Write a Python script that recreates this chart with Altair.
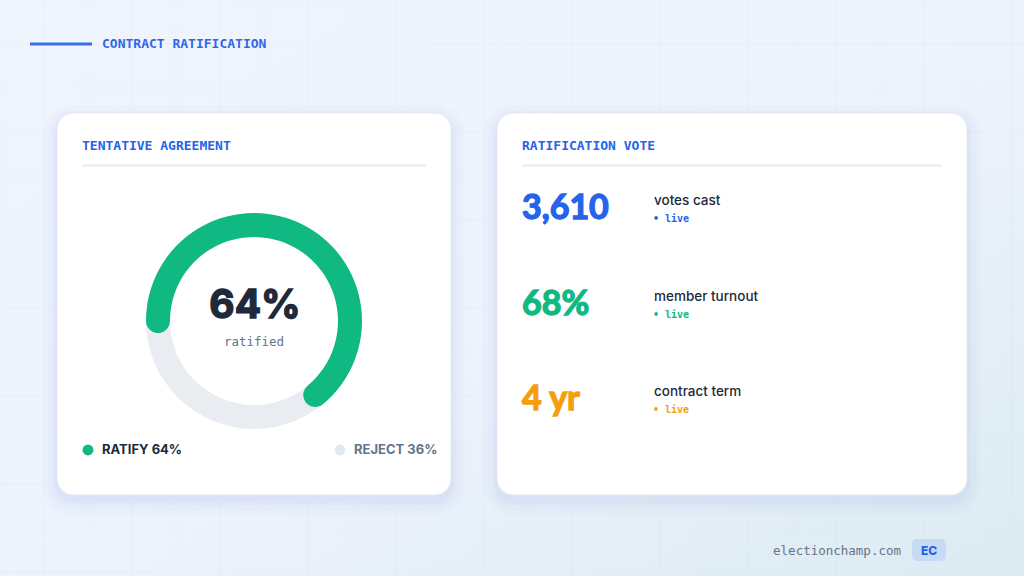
import math
import altair as alt
import pandas as pd

# ---------------- data ----------------
vote_labels = ["RATIFY", "REJECT"]
vote_shares = [64, 36]
center_caption = "ratified"

stat_values = ["3,610", "68%", "4 yr"]
stat_labels = ["votes cast", "member turnout", "contract term"]
stat_status = ["live", "live", "live"]

page_title = "CONTRACT RATIFICATION"
left_title = "TENTATIVE AGREEMENT"
right_title = "RATIFICATION VOTE"
footer_site = "electionchamp.com"
footer_badge = "EC"

# ---------------- style ----------------
BLUE = "#2563eb"
GREEN = "#10b981"
AMBER = "#f59e0b"
DARK = "#1e293b"
SLATE = "#64748b"
TRACK = "#e9edf2"
REJECT_DOT = "#e2e8f0"
DIVIDER = "#e6ebf2"
MONO = "DejaVu Sans Mono"
SANS = "Inter"

stat_colors = [BLUE, GREEN, AMBER]
vote_dot_colors = [GREEN, REJECT_DOT]
vote_ink_colors = [DARK, SLATE]

pie = pd.DataFrame({"label": vote_labels, "value": vote_shares,
                    "dot": vote_dot_colors, "ink": vote_ink_colors})
stats = pd.DataFrame({"idx": [0, 1, 2], "value": stat_values, "label": stat_labels,
                      "status": stat_status, "color": stat_colors})
one = pd.DataFrame({"k": [0]})

W, H = 1024, 576


def rect(x, x2, y, y2, **kw):
    return alt.Chart(one).mark_rect(**kw).encode(
        x=alt.value(x), x2=alt.value(x2), y=alt.value(y), y2=alt.value(y2))


def hrule(x, x2, y, **kw):
    return alt.Chart(one).mark_rule(**kw).encode(
        x=alt.value(x), x2=alt.value(x2), y=alt.value(y))


def text(s, x, y, **kw):
    return alt.Chart(one).mark_text(text=s, **kw).encode(x=alt.value(x), y=alt.value(y))


layers = []

# background gradient
layers.append(rect(0, W, 0, H, fill=alt.LinearGradient(
    gradient="linear", x1=0, y1=0, x2=1, y2=1,
    stops=[alt.GradientStop(color="#f0f4fd", offset=0),
           alt.GradientStop(color="#edf2fc", offset=0.55),
           alt.GradientStop(color="#dbebf2", offset=1)])))

# faint grid
layers.append(alt.Chart(alt.sequence(0, W + 1, 44, as_="g")).mark_rule(
    stroke="#d9e2f2", strokeWidth=1, opacity=0.18).encode(
    x=alt.X("g:Q", scale=alt.Scale(domain=[0, W], range=[0, W]), axis=None),
    y=alt.value(0), y2=alt.value(H)))
layers.append(alt.Chart(alt.sequence(0, H + 1, 44, as_="g")).mark_rule(
    stroke="#d9e2f2", strokeWidth=1, opacity=0.18).encode(
    y=alt.Y("g:Q", scale=alt.Scale(domain=[0, H], range=[0, H]), axis=None),
    x=alt.value(0), x2=alt.value(W)))

# page title
layers.append(hrule(30, 92, 44, stroke="#3b6fe6", strokeWidth=3))
layers.append(text(page_title, 102, 48, font=MONO, fontSize=13, fontWeight="bold",
                   color="#3068e4", align="left", baseline="alphabetic"))

# cards with soft shadows
cards = [(57, 451, 113, 495), (497, 967, 113, 495)]
for (x0, x1, y0, y1) in cards:
    for grow, op in [(14, 0.05), (9, 0.07), (5, 0.09), (2, 0.12)]:
        layers.append(rect(x0 - grow, x1 + grow, y0 - grow + 6, y1 + grow + 6,
                           fill="#b9c8ee", opacity=op, cornerRadius=16 + grow))
    layers.append(rect(x0, x1, y0, y1, fill="white", stroke="#e3e9f3",
                       strokeWidth=1, cornerRadius=16))

# card titles & dividers
layers.append(text(left_title, 82, 150, font=MONO, fontSize=13, fontWeight="bold",
                   color=BLUE, align="left", baseline="alphabetic"))
layers.append(hrule(82, 426, 165.5, stroke=DIVIDER, strokeWidth=2))
layers.append(text(right_title, 522, 150, font=MONO, fontSize=13, fontWeight="bold",
                   color=BLUE, align="left", baseline="alphabetic"))
layers.append(hrule(522, 942, 165.5, stroke=DIVIDER, strokeWidth=2))

# donut
CX, CY, R_IN, R_OUT = 254, 321, 84, 108
cap = ((R_OUT - R_IN) / 2) / ((R_IN + R_OUT) / 2)
layers.append(alt.Chart(one).mark_arc(innerRadius=R_IN, outerRadius=R_OUT, theta=0,
                                      theta2=2 * math.pi, color=TRACK).encode(
    x=alt.value(CX), y=alt.value(CY)))
layers.append(alt.Chart(pie).transform_filter("datum.label == 'RATIFY'").transform_calculate(
    t0=f"-PI/2 - {cap}",
    t1=f"-PI/2 + 2*PI*datum.value/100 + {cap}"
).mark_arc(innerRadius=R_IN, outerRadius=R_OUT, cornerRadius=12, color=GREEN).encode(
    theta=alt.Theta("t0:Q", scale=None), theta2="t1:Q",
    x=alt.value(CX), y=alt.value(CY)))

layers.append(alt.Chart(pie).transform_filter("datum.label == 'RATIFY'").transform_calculate(
    t="datum.value + '%'").mark_text(font=SANS, fontSize=39, fontWeight="bold", color=DARK,
                                     stroke=DARK, strokeWidth=1.4,
                                     align="center", baseline="alphabetic").encode(
    text="t:N", x=alt.value(CX + 1), y=alt.value(318)))
layers.append(text(center_caption, CX, 345.5, font=MONO, fontSize=12.5, color=SLATE,
                   align="center", baseline="alphabetic"))

# legend
leg_x = alt.X("label:N", sort=vote_labels,
              scale=alt.Scale(range=[88, 340], padding=0), axis=None)
layers.append(alt.Chart(pie).mark_circle(size=120, opacity=1).encode(
    x=leg_x, y=alt.value(450), color=alt.Color("dot:N", scale=None)))
layers.append(alt.Chart(pie).transform_calculate(
    t="datum.label + ' ' + datum.value + '%'").mark_text(
    align="left", baseline="middle", dx=14, font=SANS, fontSize=13, fontWeight=700).encode(
    x=leg_x, y=alt.value(450), text="t:N", color=alt.Color("ink:N", scale=None)))

# stats
sy = alt.Y("idx:O", scale=alt.Scale(range=[219, 410], padding=0), axis=None)
layers.append(alt.Chart(stats).mark_text(align="left", baseline="alphabetic", font="Lato",
                                         fontSize=34, fontWeight="bold", strokeWidth=1.3).encode(
    x=alt.value(522), y=sy, text="value:N", color=alt.Color("color:N", scale=None),
    stroke=alt.Stroke("color:N", scale=None)))
layers.append(alt.Chart(stats).mark_text(align="left", baseline="alphabetic", dy=-14,
                                         font=SANS, fontSize=13.5, fontWeight=500,
                                         color=DARK).encode(
    x=alt.value(654), y=sy, text="label:N"))
layers.append(alt.Chart(stats).transform_calculate(t="'\u2022 ' + datum.status").mark_text(
    align="left", baseline="alphabetic", dy=3, font=MONO, fontSize=10, fontWeight="bold").encode(
    x=alt.value(653), y=sy, text="t:N", color=alt.Color("color:N", scale=None)))

# footer
layers.append(text(footer_site, 901, 555, font=MONO, fontSize=12.5, color=SLATE,
                   align="right", baseline="alphabetic"))
layers.append(rect(912, 946, 539, 561, fill="#c8dbf5", cornerRadius=5))
layers.append(text(footer_badge, 929, 550.5, font=SANS, fontSize=12, fontWeight=800,
                   color=BLUE, align="center", baseline="middle"))

chart = alt.layer(*layers).resolve_scale(x="independent", y="independent").properties(
    width=W, height=H, padding=0, autosize="none", background="#eef3fc"
).configure_view(stroke=None)

chart.save("out.html", embed_options={"renderer": "svg", "actions": False})
